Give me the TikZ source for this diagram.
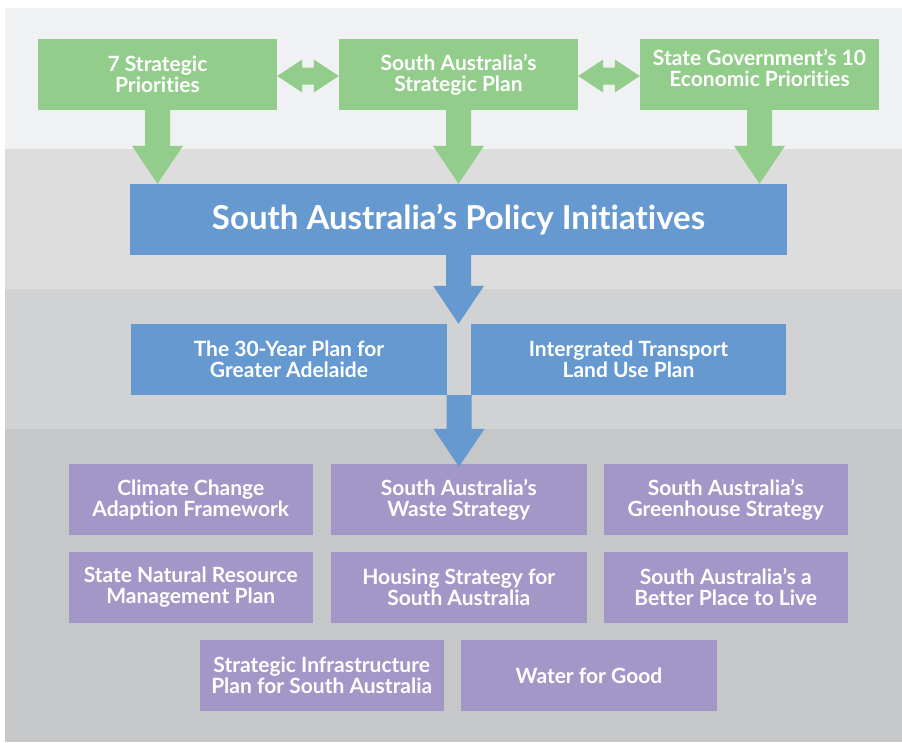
\documentclass[tikz,border=0pt]{standalone}
\usepackage{fontspec}
\setmainfont{Lato}[Ligatures=NoCommon]
\usetikzlibrary{calc}
\definecolor{bandA}{HTML}{F0F1F3}
\definecolor{bandB}{HTML}{DCDDDC}
\definecolor{bandC}{HTML}{D1D2D4}
\definecolor{bandD}{HTML}{C6C7C8}
\definecolor{grn}{HTML}{93CD8B}
\definecolor{blu}{HTML}{6699D0}
\definecolor{pur}{HTML}{A397C8}
\newcommand{\blockdown}[3]{%
  \fill[#3] let \p1=(#1), \p2=(#2) in
    (\x1-12.5pt,\y1) -- (\x1+12.5pt,\y1) -- (\x1+12.5pt,\y2+38pt) -- (\x1+25.5pt,\y2+38pt)
    -- (\x1,\y2) -- (\x1-25.5pt,\y2+38pt) -- (\x1-12.5pt,\y2+38pt) -- cycle;}
\newcommand{\blockdouble}[3]{%
  \fill[#3] let \p1=(#1.east), \p2=(#2.west) in
    (\x1,\y1-1.5pt) -- (\x1+25pt,\y1+15pt) -- (\x1+25pt,\y1+7pt) -- (\x2-25pt,\y1+7pt)
    -- (\x2-25pt,\y1+15pt) -- (\x2,\y1-1.5pt) -- (\x2-25pt,\y1-18pt) -- (\x2-25pt,\y1-10pt)
    -- (\x1+25pt,\y1-10pt) -- (\x1+25pt,\y1-18pt) -- cycle;}
\begin{document}
\begin{tikzpicture}[x=1pt,y=-1pt,
  box/.style={minimum height=71pt, inner sep=0pt, text=white, align=center,
    font=\fontsize{21}{21}\selectfont\bfseries},
  gbox/.style={box, fill=grn, minimum width=239pt},
  bbox/.style={box, fill=blu},
  pbox/.style={box, fill=pur, minimum width=243.5pt},
  txt/.style={text=white, align=center, inner sep=0pt, font=\fontsize{21}{21}\selectfont\bfseries}]
\useasboundingbox (0,0) rectangle (902,742);
\fill[white] (0,0) rectangle (902,742);
\fill[bandA] (5,8) rectangle (902,149);
\fill[bandB] (5,149) rectangle (902,289);
\fill[bandC] (5,289) rectangle (902,429);
\fill[bandD] (5,429) rectangle (902,742);

\node[gbox] (g1) at (157.5,74.5) {7 Strategic\\Priorities};
\node[gbox] (g2) at (458.5,74.5) {South Australia’s\\Strategic Plan};
\node[gbox] (g3) at (759.5,74.5) {};
\node[txt] (g3t) at (759.5,67.5) {State Government’s 10\\Economic Priorities};

\node[bbox, minimum width=657pt, font=\fontsize{33}{36}\selectfont\bfseries] (pi) at (458.5,219.5) {South Australia’s Policy Initiatives};

\node[bbox, minimum width=316pt] (b1) at (289,359.5) {The 30-Year Plan for\\Greater Adelaide};
\node[bbox, minimum width=315pt] (b2) at (628.5,359.5) {Intergrated Transport\\Land Use Plan};
\coordinate (bm) at ($(b1.south east)!0.5!(b2.south west)$);

\node[pbox] (p1) at (190.75,499.5) {Climate Change\\Adaption Framework};
\node[pbox, minimum width=255.5pt] (p2) at (458.75,499.5) {South Australia’s\\Waste Strategy};
\node[pbox] (p3) at (725.75,499.5) {South Australia’s\\Greenhouse Strategy};
\node[pbox] (p4) at (190.75,587) {State Natural Resource\\Management Plan};
\node[pbox, minimum width=255.5pt] (p5) at (458.75,587) {Housing Strategy for\\South Australia};
\node[pbox] (p6) at (725.75,587) {South Australia’s a\\Better Place to Live};
\node[pbox] (p7) at (321.75,675.5) {Strategic Infrastructure\\Plan for South Australia};
\node[pbox, minimum width=256pt] (p8) at (589,675.5) {Water for Good};

\blockdouble{g1}{g2}{grn}
\blockdouble{g2}{g3}{grn}
\blockdown{g1.south}{g1.south |- pi.north}{grn}
\blockdown{g2.south}{g2.south |- pi.north}{grn}
\blockdown{g3.south}{g3.south |- pi.north}{grn}
\blockdown{pi.south}{pi.south |- b1.north}{blu}
\blockdown{bm}{$(bm |- p2.north)+(0,3)$}{blu}
\end{tikzpicture}
\end{document}
